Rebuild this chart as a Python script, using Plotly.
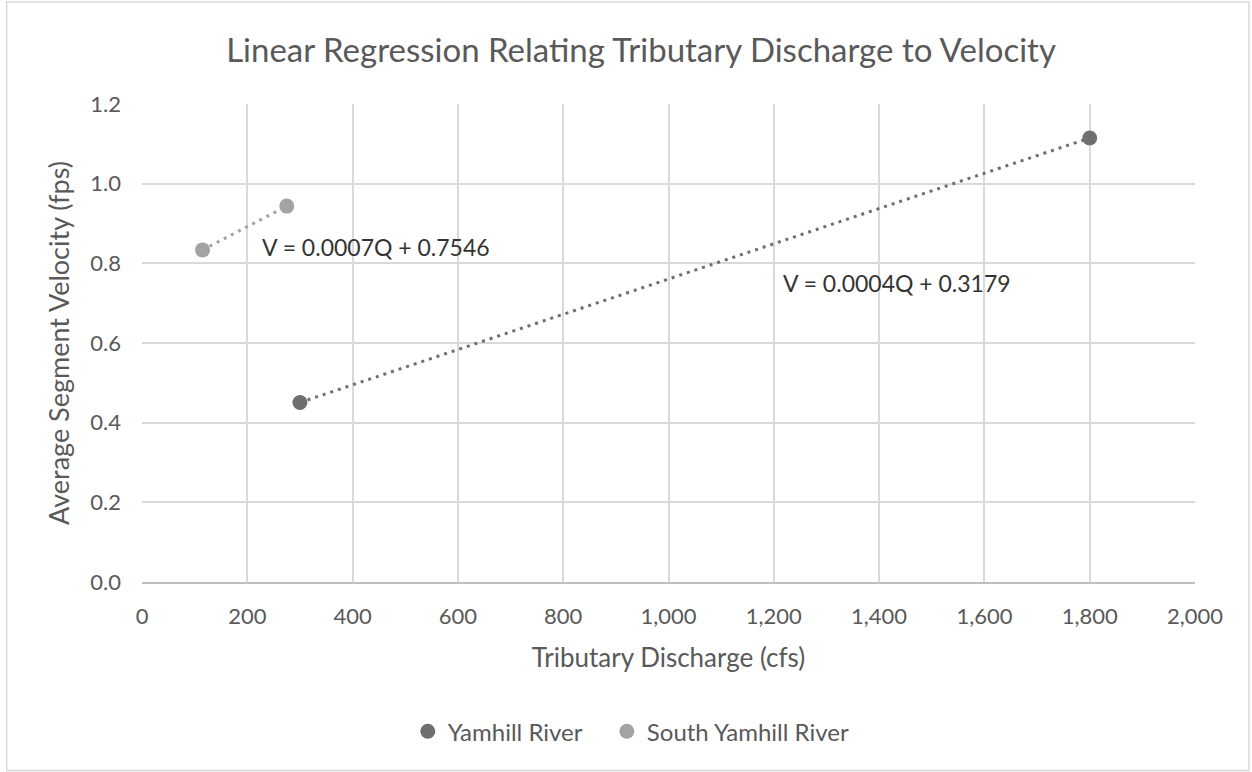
import numpy as np
import plotly.graph_objects as go

# Measured discharge (cfs) and average segment velocity (fps)
yamhill_q = [300, 1800]
yamhill_v = [0.4507, 1.1147]
south_q = [115, 275]
south_v = [0.8337, 0.9437]

series_names = ["Yamhill River", "South Yamhill River"]
series_colors = ["#6f6f6f", "#a3a3a3"]

x_ticks = list(range(0, 2001, 200))
y_ticks = [0.0, 0.2, 0.4, 0.6, 0.8, 1.0, 1.2]

FONT = "Lato"
TEXT = "#595959"
GRID = "#d9d9d9"

fig = go.Figure()

datasets = [(yamhill_q, yamhill_v), (south_q, south_v)]
fits = []
for (q, v), color in zip(datasets, series_colors):
    m, b = np.polyfit(q, v, 1)
    fits.append((m, b))
    qx = np.array([min(q), max(q)], dtype=float)
    fig.add_trace(go.Scatter(
        x=qx, y=m * qx + b, mode="lines", showlegend=False, hoverinfo="skip",
        line=dict(color=color, width=3, dash="3px,5px"),
    ))

# each series gets its own legend box so the entries can be spaced freely
legend_ids = ["legend", "legend2"]
for (q, v), name, color, lg in zip(datasets, series_names, series_colors, legend_ids):
    fig.add_trace(go.Scatter(
        x=q, y=v, mode="markers", name=name, legend=lg,
        marker=dict(color=color, size=15),
    ))

# regression equation labels (placed in data space)
label_pos = [(1434, 0.750), (444, 0.842)]
for (m, b), (lx, ly) in zip(fits, label_pos):
    fig.add_annotation(
        x=lx, y=ly, xref="x", yref="y", showarrow=False,
        text=f"V = {m:.4f}Q + {b:.4f}",
        font=dict(family=FONT, size=23, color="#333333"),
    )

# light chart-area frame
L, T, W, H = 142.3, 104.0, 1052.7, 478.3
def px_x(p):
    return (p - L) / W
def px_y(p):
    return (T + H - p) / H

fig.add_shape(type="rect", xref="paper", yref="paper",
              x0=px_x(7), x1=px_x(1249), y0=px_y(771), y1=px_y(2),
              line=dict(color=GRID, width=1.5), layer="below")

legend_style = dict(
    orientation="h", xanchor="left", y=px_y(732), yanchor="middle",
    font=dict(family=FONT, size=24, color=TEXT), itemwidth=30,
    bgcolor="rgba(0,0,0,0)",
)

fig.update_layout(
    width=1252, height=772,
    margin=dict(l=142, r=57, t=104, b=190),
    paper_bgcolor="white", plot_bgcolor="white",
    font=dict(family=FONT, color=TEXT),
    title=dict(
        text="Linear Regression Relating Tributary Discharge to Velocity",
        x=0.512, xanchor="center", y=1 - 50 / 772, yanchor="middle",
        font=dict(family=FONT, size=33, color=TEXT),
    ),
    xaxis=dict(
        range=[0, 2000], tickvals=x_ticks, tickformat=",d",
        showgrid=True, gridcolor=GRID, gridwidth=2,
        zeroline=False, showline=True, linecolor="#bfbfbf", linewidth=2,
        ticks="", ticklabelstandoff=14,
        tickfont=dict(family=FONT, size=22, color=TEXT),
        title=dict(text="Tributary Discharge (cfs)", standoff=20,
                   font=dict(family=FONT, size=26, color=TEXT)),
    ),
    yaxis=dict(
        range=[0, 1.2], tickvals=y_ticks, tickformat=".1f",
        showgrid=True, gridcolor=GRID, gridwidth=2,
        zeroline=False, showline=False,
        ticks="", ticklabelstandoff=20,
        tickfont=dict(family=FONT, size=22, color=TEXT),
        title=dict(text="Average Segment Velocity (fps)", standoff=12,
                   font=dict(family=FONT, size=27, color=TEXT)),
    ),
    legend=dict(x=px_x(408), **legend_style),
    legend2=dict(x=px_x(607), **legend_style),
)

fig.write_html("out.html")
